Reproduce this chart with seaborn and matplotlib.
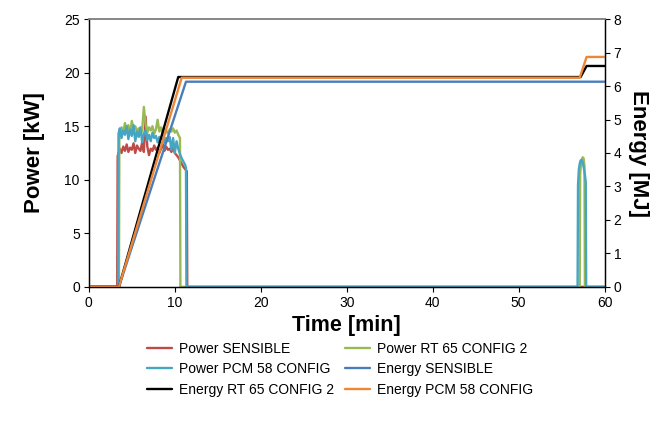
import matplotlib
matplotlib.use("Agg")
import matplotlib.pyplot as plt
import seaborn as sns
import pandas as pd

# ---- power traces [kW] over time [min] ----
t_pow_sensible = [0, 3.3, 3.35,
                  3.6, 3.8, 4.0, 4.2, 4.4, 4.6, 4.8, 5.0, 5.2, 5.4,
                  5.6, 5.8, 6.0, 6.2, 6.4, 6.6, 6.8, 7.0, 7.2, 7.4,
                  7.6, 7.8, 8.0, 8.2, 8.4, 8.6, 8.8, 9.0, 9.2, 9.4,
                  9.6, 9.8, 10.0, 10.2, 10.4, 10.6, 10.8, 11.0, 11.2, 11.4,
                  11.45, 60]
p_pow_sensible = [0, 0, 12.2,
                  12.9, 12.5, 13.1, 12.7, 13.3, 12.6, 13.0, 12.8, 13.4, 12.5,
                  13.2, 12.9, 12.7, 13.5, 12.6, 15.9, 13.1, 12.3, 12.9, 12.7,
                  13.2, 12.8, 13.0, 12.5, 12.9, 13.3, 12.7, 13.1, 12.8, 12.9,
                  12.6, 13.0, 12.5, 12.3, 12.1, 11.8, 11.5, 11.2, 11.0, 10.8,
                  0, 0]

t_pow_rt65 = [0, 3.5, 3.55,
              3.6, 3.8, 4.0, 4.2, 4.4, 4.6, 4.8, 5.0, 5.2, 5.4,
              5.6, 5.8, 6.0, 6.2, 6.4, 6.6, 6.8, 7.0, 7.2, 7.4,
              7.6, 7.8, 8.0, 8.2, 8.4, 8.6, 8.8, 9.0, 9.2, 9.4,
              9.6, 9.8, 10.0, 10.2, 10.4, 10.6,
              10.65,
              57.1, 57.15, 57.25, 57.35, 57.45, 57.55, 57.65, 57.7,
              60]
p_pow_rt65 = [0, 0, 13.8,
              14.2, 14.9, 14.4, 15.3, 14.6, 15.1, 14.3, 15.5, 14.7, 15.0,
              14.5, 14.8, 14.2, 14.6, 16.8, 15.2, 14.4, 14.9, 14.6, 15.0,
              14.3, 14.7, 15.6, 14.5, 14.9, 14.4, 14.8, 14.6, 14.3, 14.7,
              14.5, 14.8, 14.4, 14.6, 14.2, 13.9,
              0,
              0, 10.5, 11.5, 11.9, 12.1, 12.0, 11.3, 0,
              0]

t_pow_pcm58 = [0, 3.4, 3.45,
               3.6, 3.8, 4.0, 4.2, 4.4, 4.6, 4.8, 5.0, 5.2, 5.4,
               5.6, 5.8, 6.0, 6.2, 6.4, 6.6, 6.8, 7.0, 7.2, 7.4,
               7.6, 7.8, 8.0, 8.2, 8.4, 8.6, 8.8, 9.0, 9.2, 9.4,
               9.6, 9.8, 10.0, 10.2, 10.4, 10.6, 10.8, 11.0, 11.2,
               11.3, 11.35,
               56.85, 56.9, 57.0, 57.1, 57.2, 57.3, 57.4, 57.5, 57.6, 57.7, 57.8, 57.85,
               60]
p_pow_pcm58 = [0, 0, 14.3,
               14.8, 13.9, 14.6, 14.2, 15.0, 13.8, 14.7, 14.1, 15.1, 13.6,
               14.5, 14.0, 14.9, 13.5, 14.3, 14.6, 13.7, 14.2, 13.6, 14.4,
               13.9, 14.1, 13.5, 14.0, 13.8, 14.3, 13.4, 13.9, 13.6, 14.0,
               12.8, 13.9, 12.5, 13.6, 12.9, 12.4, 12.0, 11.7, 11.4,
               11.1, 0,
               0, 9.5, 11.0, 11.5, 11.8, 11.85, 11.7, 11.4, 11.0, 10.5, 9.8, 0,
               0]

# ---- cumulative energy [MJ] over time [min] ----
t_en_sensible = [0, 3.5, 11.3, 60]
e_en_sensible = [0, 0, 6.13, 6.13]
t_en_rt65 = [0, 3.5, 10.4, 57.2, 57.9, 60]
e_en_rt65 = [0, 0, 6.27, 6.27, 6.6, 6.6]
t_en_pcm58 = [0, 3.5, 10.8, 57.1, 57.9, 60]
e_en_pcm58 = [0, 0, 6.25, 6.25, 6.87, 6.87]

x_ticks = [0, 10, 20, 30, 40, 50, 60]
power_ticks = [0, 5, 10, 15, 20, 25]
energy_ticks = [0, 1, 2, 3, 4, 5, 6, 7, 8]

C_RED = "#BE4B48"
C_GREEN = "#98B954"
C_TEAL = "#46A5C2"
C_BLUE = "#4A7EBB"
C_BLACK = "#000000"
C_ORANGE = "#EE8636"

sns.set_theme(style="white")
plt.rcParams["font.family"] = ["Liberation Sans", "DejaVu Sans"]
plt.rcParams.update({"text.color": "black", "axes.labelcolor": "black",
                     "xtick.color": "black", "ytick.color": "black"})

fig = plt.figure(figsize=(6.63, 4.25), dpi=100)
ax = fig.add_axes([0.134, 0.325, 0.778, 0.630])
ax2 = ax.twinx()

lw = 1.7
power_series = [
    ("Power SENSIBLE", t_pow_sensible, p_pow_sensible, C_RED),
    ("Power RT 65 CONFIG 2", t_pow_rt65, p_pow_rt65, C_GREEN),
    ("Power PCM 58 CONFIG", t_pow_pcm58, p_pow_pcm58, C_TEAL),
]
energy_series = [
    ("Energy SENSIBLE", t_en_sensible, e_en_sensible, C_BLUE),
    ("Energy RT 65 CONFIG 2", t_en_rt65, e_en_rt65, C_BLACK),
    ("Energy PCM 58 CONFIG", t_en_pcm58, e_en_pcm58, C_ORANGE),
]

handles = {}
for name, t, v, c in power_series:
    df = pd.DataFrame({"t": t, "v": v})
    sns.lineplot(data=df, x="t", y="v", ax=ax, color=c, lw=lw,
                 sort=False, estimator=None, legend=False)
    handles[name] = ax.lines[-1]
for name, t, v, c in energy_series:
    df = pd.DataFrame({"t": t, "v": v})
    sns.lineplot(data=df, x="t", y="v", ax=ax2, color=c, lw=lw,
                 sort=False, estimator=None, legend=False)
    handles[name] = ax2.lines[-1]

ax.set_xlim(0, 60)
ax.set_ylim(0, 25)
ax2.set_ylim(0, 8)
ax.set_xticks(x_ticks)
ax.set_yticks(power_ticks)
ax2.set_yticks(energy_ticks)

ax.set_xlabel("Time [min]", fontsize=15.5, fontweight="bold", labelpad=4)
ax.set_ylabel("Power [kW]", fontsize=16, fontweight="bold", labelpad=14)
ax2.set_ylabel("Energy [MJ]", fontsize=16, fontweight="bold",
               rotation=270, labelpad=20)

for a in (ax, ax2):
    a.tick_params(axis="both", which="major", direction="out", length=3.5,
                  width=0.8, color="black", labelcolor="black",
                  labelsize=10, pad=3)
    for s in ("left", "right", "bottom"):
        a.spines[s].set_color("black")
        a.spines[s].set_linewidth(0.9)
    a.spines["top"].set_color("#868686")
    a.spines["top"].set_linewidth(1.2)
ax.tick_params(axis="y", left=True, right=False)
ax.tick_params(axis="x", bottom=True)
ax2.tick_params(axis="y", right=True, left=False)
ax.grid(False)
ax2.grid(False)

order = ["Power SENSIBLE", "Power PCM 58 CONFIG", "Energy RT 65 CONFIG 2",
         "Power RT 65 CONFIG 2", "Energy SENSIBLE", "Energy PCM 58 CONFIG"]
fig.legend([handles[k] for k in order], order, ncol=2, frameon=False,
           loc="center", bbox_to_anchor=(0.513, 0.131), fontsize=10,
           handlelength=1.8, handletextpad=0.55, columnspacing=0.75,
           labelspacing=0.45)

fig.savefig("out.png", dpi=100)
